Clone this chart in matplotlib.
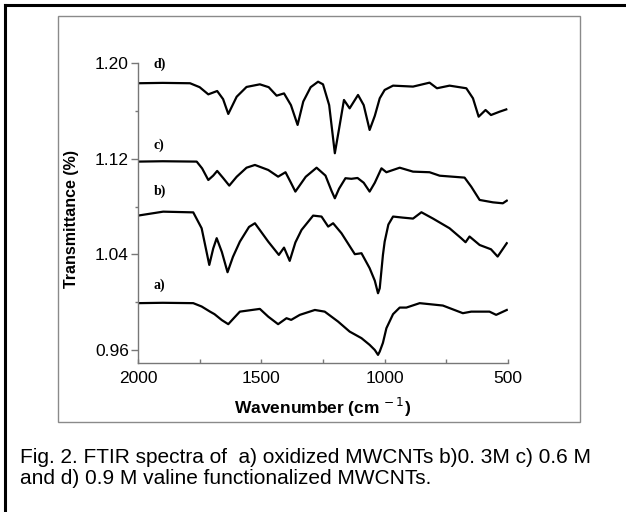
import matplotlib
matplotlib.use("Agg")
import matplotlib.pyplot as plt
from matplotlib.patches import Rectangle
from matplotlib.lines import Line2D
from matplotlib.ticker import MultipleLocator

# FTIR spectra (wavenumber cm-1, transmittance)
wn_a = [2000, 1900, 1776, 1742, 1708, 1690, 1660, 1634, 1610, 1587, 1506, 1472, 1432, 1398, 1379,
        1344, 1283, 1243, 1189, 1142, 1094, 1061, 1040, 1027, 1020, 1007, 993, 966, 939, 912, 858,
        764, 683, 649, 575, 548, 505]
t_a = [0.9992, 0.9995, 0.9992, 0.9964, 0.9921, 0.9900, 0.9850, 0.9816, 0.9870, 0.9921, 0.9944,
       0.9879, 0.9816, 0.9866, 0.9852, 0.9894, 0.9935, 0.9921, 0.9838, 0.9754, 0.9699, 0.9643,
       0.9600, 0.9559, 0.9587, 0.9660, 0.9782, 0.9900, 0.9955, 0.9955, 0.9992, 0.9972, 0.9908,
       0.9921, 0.9921, 0.9894, 0.9935]

wn_b = [2000, 1898, 1776, 1742, 1711, 1695, 1681, 1660, 1637, 1615, 1587, 1550, 1526, 1472, 1429,
        1408, 1385, 1362, 1337, 1290, 1256, 1229, 1209, 1175, 1121, 1094, 1061, 1040, 1027, 1020,
        1007, 1000, 985, 966, 926, 885, 851, 804, 737, 690, 672, 656, 615, 569, 542, 505]
t_b = [1.0725, 1.0758, 1.0752, 1.0619, 1.0312, 1.0450, 1.0536, 1.0420, 1.0251, 1.0380, 1.0507,
       1.0630, 1.0661, 1.0507, 1.0396, 1.0457, 1.0346, 1.0500, 1.0605, 1.0725, 1.0717, 1.0633,
       1.0661, 1.0577, 1.0402, 1.0410, 1.0285, 1.0180, 1.0075, 1.0117, 1.0396, 1.0507, 1.0650,
       1.0717, 1.0708, 1.0700, 1.0753, 1.0700, 1.0619, 1.0536, 1.0502, 1.0550, 1.0479, 1.0443,
       1.0382, 1.0494]

wn_c = [2000, 1900, 1762, 1740, 1715, 1695, 1679, 1655, 1630, 1600, 1560, 1526, 1472, 1432, 1402,
        1380, 1362, 1320, 1276, 1240, 1215, 1202, 1185, 1159, 1135, 1110, 1085, 1061, 1040, 1013,
        993, 939, 885, 818, 777, 676, 649, 615, 561, 521, 505]
t_c = [1.1177, 1.1180, 1.1177, 1.1120, 1.1023, 1.1060, 1.1099, 1.1040, 1.0976, 1.1050, 1.1126,
       1.1149, 1.1107, 1.1051, 1.1088, 1.1000, 1.0926, 1.1050, 1.1126, 1.1060, 1.0930, 1.0870,
       1.0950, 1.1038, 1.1033, 1.1040, 1.1000, 1.0926, 1.1000, 1.1121, 1.1088, 1.1126, 1.1093,
       1.1088, 1.1059, 1.1043, 1.0967, 1.0856, 1.0836, 1.0828, 1.0850]

wn_d = [2000, 1900, 1789, 1750, 1715, 1679, 1655, 1634, 1600, 1560, 1506, 1470, 1438, 1408, 1380,
        1353, 1330, 1300, 1270, 1250, 1225, 1202, 1185, 1165, 1142, 1108, 1085, 1061, 1040, 1020,
        1000, 966, 885, 818, 788, 737, 669, 642, 619, 591, 569, 534, 507]
t_d = [1.1833, 1.1836, 1.1833, 1.1800, 1.1740, 1.1768, 1.1700, 1.1576, 1.1720, 1.1802, 1.1824,
       1.1800, 1.1729, 1.1748, 1.1650, 1.1484, 1.1680, 1.1800, 1.1846, 1.1824, 1.1650, 1.1247,
       1.1450, 1.1693, 1.1623, 1.1735, 1.1650, 1.1442, 1.1560, 1.1707, 1.1777, 1.1813, 1.1805,
       1.1838, 1.1791, 1.1813, 1.1791, 1.1707, 1.1553, 1.1609, 1.1567, 1.1595, 1.1614]

labels = ["a)", "b)", "c)", "d)"]
label_y = [1.0145, 1.0926, 1.1316, 1.199]

caption = ("Fig. 2. FTIR spectra of  a) oxidized MWCNTs b)0. 3M c) 0.6 M\n"
           "and d) 0.9 M valine functionalized MWCNTs.")

W, H = 626, 512
fig = plt.figure(figsize=(W / 100, H / 100), dpi=100)
plt.rcParams['font.family'] = ['Liberation Sans', 'DejaVu Sans']

# outer black frame (top and left) and grey box round the chart
fig.add_artist(Line2D([5 / W, 5 / W], [0, 1 - 5 / H], transform=fig.transFigure, color='black', lw=2.2))
fig.add_artist(Line2D([5 / W, 1], [1 - 5 / H, 1 - 5 / H], transform=fig.transFigure, color='black', lw=2.2))
fig.add_artist(Rectangle((58 / W, 1 - 422 / H), (580 - 58) / W, (422 - 16) / H,
                         transform=fig.transFigure, fill=False, ec='#8a8a8a', lw=1.0))

ax = fig.add_axes([138 / W, 1 - 363 / H, (508 - 138) / W, (363 - 63.3) / H])
for wn, t in [(wn_a, t_a), (wn_b, t_b), (wn_c, t_c), (wn_d, t_d)]:
    ax.plot(wn, t, color='black', lw=1.6, solid_joinstyle='round')

ax.set_xlim(2000, 500)
ax.set_ylim(0.9491, 1.20)
ax.set_xticks([2000, 1500, 1000, 500])
ax.xaxis.set_minor_locator(MultipleLocator(250))
ax.set_yticks([0.96, 1.04, 1.12, 1.20])
ax.yaxis.set_minor_locator(MultipleLocator(0.04))
ax.set_yticklabels(["0.96", "1.04", "1.12", "1.20"])

for s in ['top', 'right']:
    ax.spines[s].set_visible(False)
for s in ['left', 'bottom']:
    ax.spines[s].set_color('#777777')
    ax.spines[s].set_linewidth(1.0)

ax.tick_params(axis='y', which='major', direction='out', length=5, width=1, color='#777777',
               labelsize=12.5, pad=1.5)
ax.tick_params(axis='y', which='minor', direction='out', length=2, width=1, color='#777777')
ax.tick_params(axis='x', which='major', direction='in', length=3, width=1, color='#777777',
               labelsize=12.5, pad=6)
ax.tick_params(axis='x', which='minor', direction='in', length=3, width=1, color='#777777')

for lab, y in zip(labels, label_y):
    ax.text(1938, y, lab, fontfamily='Liberation Serif', fontweight='bold', fontsize=10,
            ha='left', va='center')

ax.set_xlabel("Wavenumber (cm$^{\\,-1}$)", fontsize=12.5, fontweight='bold', va='center')
ax.xaxis.set_label_coords(0.5, -(407 - 363) / (363 - 63.3))
ax.set_ylabel("Transmittance (%)", fontsize=11.5, fontweight='bold', va='center')
ax.yaxis.set_label_coords(-(138 - 71.5) / (508 - 138), (363 - 219) / (363 - 63.3))

fig.text(20 / W, 1 - 468 / H, caption, fontsize=15, ha='left', va='center', linespacing=1.1)

fig.savefig("out.png", dpi=100)
